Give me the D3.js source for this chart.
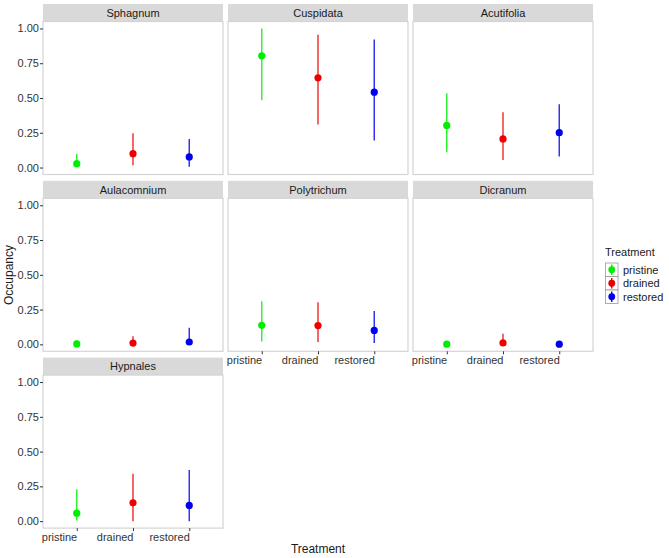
<!DOCTYPE html>
<html>
<head>
<meta charset="utf-8">
<script src="https://cdn.jsdelivr.net/npm/d3@7"></script>
<style>
  html, body { margin: 0; padding: 0; background: #ffffff; }
  svg { display: block; font-family: "Liberation Sans", Arial, Helvetica, sans-serif; }
</style>
</head>
<body>
<svg id="chart" width="669" height="558"></svg>
<script>
// ---- data ----
const species = ["Sphagnum", "Cuspidata", "Acutifolia", "Aulacomnium", "Polytrichum", "Dicranum", "Hypnales"];
const treatments = ["pristine", "drained", "restored"];
const colors = ["#00ee00", "#ee0000", "#0000ee"];
// occupancy estimate per species, order: pristine, drained, restored
const meanVals = [
  [0.028, 0.100, 0.076],
  [0.803, 0.645, 0.542],
  [0.303, 0.206, 0.251],
  [0.003, 0.009, 0.017],
  [0.137, 0.135, 0.100],
  [0.001, 0.010, 0.001],
  [0.057, 0.132, 0.113]
];
const lowerVals = [
  [0.005, 0.016, 0.005],
  [0.483, 0.310, 0.194],
  [0.110, 0.055, 0.080],
  [0.000, 0.000, 0.000],
  [0.021, 0.016, 0.010],
  [0.000, 0.000, 0.000],
  [0.004, 0.000, 0.000]
];
const upperVals = [
  [0.097, 0.247, 0.206],
  [1.000, 0.955, 0.920],
  [0.535, 0.398, 0.455],
  [0.030, 0.059, 0.120],
  [0.310, 0.303, 0.240],
  [0.006, 0.076, 0.004],
  [0.229, 0.340, 0.368]
];
const yTicks = [0, 0.25, 0.5, 0.75, 1.0];

// ---- layout ----
const svg = d3.select("#chart");
const colX = [43, 228, 413];
const rowTop = [4, 180.8, 357.6];
const panelW = 180, stripH = 17.5, panelH = 153;
const ncol = 3;
const nPanels = species.length;

const x = d3.scalePoint().domain(treatments).range([0, panelW]).padding(0.6);
const y = d3.scaleLinear().domain([-0.05, 1.05]).range([panelH, 0]);

// which panels show x axis: last in each column
function isBottomOfColumn(i) {
  return i + ncol >= nPanels;
}

species.forEach((sp, i) => {
  const c = i % ncol, r = Math.floor(i / ncol);
  const g = svg.append("g").attr("transform", `translate(${colX[c]},${rowTop[r]})`);

  // strip
  g.append("rect").attr("x", 0).attr("y", 0).attr("width", panelW).attr("height", stripH)
    .attr("fill", "#d9d9d9");
  g.append("text").attr("x", panelW / 2).attr("y", stripH / 2 + 4)
    .attr("text-anchor", "middle").attr("font-size", 11).attr("fill", "#1a1a1a").text(sp);

  const p = g.append("g").attr("transform", `translate(0,${stripH})`);
  p.append("rect").attr("x", 0).attr("y", 0).attr("width", panelW).attr("height", panelH)
    .attr("fill", "#ffffff").attr("stroke", "#d4d4d4").attr("stroke-width", 1.2);

  // error bars & points
  treatments.forEach((t, k) => {
    p.append("line")
      .attr("x1", x(t)).attr("x2", x(t))
      .attr("y1", y(lowerVals[i][k])).attr("y2", y(upperVals[i][k]))
      .attr("stroke", colors[k]).attr("stroke-width", 1.4).attr("stroke-opacity", 0.85);
    p.append("circle")
      .attr("cx", x(t)).attr("cy", y(meanVals[i][k])).attr("r", 3.6)
      .attr("fill", colors[k]);
  });

  // y axis on first column
  if (c === 0) {
    const ya = p.append("g").call(d3.axisLeft(y).tickValues(yTicks).tickSize(3).tickFormat(d3.format(".2f")));
    ya.select(".domain").remove();
    ya.selectAll(".tick line").attr("stroke", "#333333");
    ya.selectAll(".tick text").attr("font-size", 11).attr("fill", "#333333")
      .attr("font-family", "Liberation Sans, Arial, sans-serif").attr("x", -4);
  }
  // x axis on bottom panel of each column
  if (isBottomOfColumn(i)) {
    const xa = p.append("g").attr("transform", `translate(0,${panelH})`)
      .call(d3.axisBottom(x).tickSize(3));
    xa.select(".domain").remove();
    xa.selectAll(".tick line").attr("stroke", "#333333");
    xa.selectAll(".tick text").attr("font-size", 11).attr("fill", "#333333")
      .attr("font-family", "Liberation Sans, Arial, sans-serif")
      .attr("text-anchor", "end").attr("dy", "0.71em").attr("y", 5);
  }
});

// axis titles
svg.append("text").attr("transform", "translate(13,275) rotate(-90)")
  .attr("text-anchor", "middle").attr("font-size", 12).attr("fill", "#1a1a1a").text("Occupancy");
svg.append("text").attr("x", 318).attr("y", 553)
  .attr("text-anchor", "middle").attr("font-size", 12).attr("fill", "#1a1a1a").text("Treatment");

// legend
const lg = svg.append("g").attr("transform", "translate(605,243)");
lg.append("text").attr("x", 0).attr("y", 13).attr("font-size", 11).attr("fill", "#1a1a1a").text("Treatment");
const keyH = 13.5, keyW = 12.5, keyTop = 20;
treatments.forEach((t, k) => {
  const ky = keyTop + k * keyH;
  lg.append("rect").attr("x", 0.5).attr("y", ky).attr("width", keyW).attr("height", keyH)
    .attr("fill", "#ffffff").attr("stroke", "#9a9a9a").attr("stroke-width", 0.8);
  lg.append("line").attr("x1", 0.5 + keyW / 2).attr("x2", 0.5 + keyW / 2)
    .attr("y1", ky + 1.5).attr("y2", ky + keyH - 1.5)
    .attr("stroke", colors[k]).attr("stroke-width", 1.4);
  lg.append("circle").attr("cx", 0.5 + keyW / 2).attr("cy", ky + keyH / 2).attr("r", 3.4).attr("fill", colors[k]);
  lg.append("text").attr("x", 18).attr("y", ky + keyH / 2 + 4).attr("font-size", 11)
    .attr("fill", "#1a1a1a").text(t);
});
</script>
</body>
</html>
